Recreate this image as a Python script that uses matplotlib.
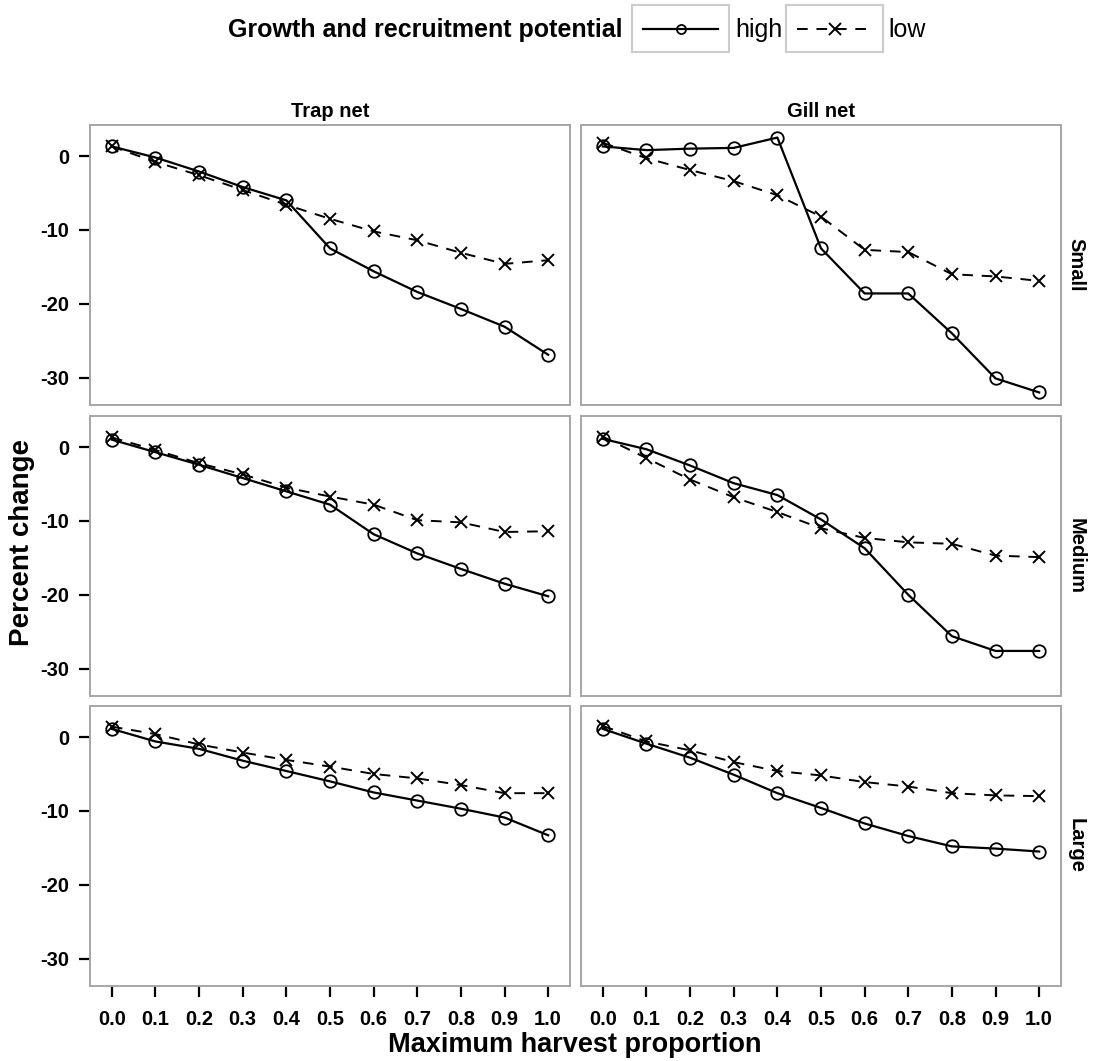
import matplotlib
matplotlib.use("Agg")
import matplotlib.pyplot as plt
from matplotlib.lines import Line2D

plt.rcParams["font.family"] = ["Liberation Sans", "DejaVu Sans"]

# Harvest proportions on the x axis
harvest = [0.0, 0.1, 0.2, 0.3, 0.4, 0.5, 0.6, 0.7, 0.8, 0.9, 1.0]

gears = ["Trap net", "Gill net"]
sizes = ["Small", "Medium", "Large"]
potentials = ["high", "low"]

# Percent change in yield, by size class, gear and growth/recruitment potential
trap_small_high = [1.3, -0.2, -2.1, -4.2, -6.0, -12.5, -15.6, -18.4, -20.7, -23.1, -26.9]
trap_small_low = [1.3, -0.8, -2.6, -4.6, -6.6, -8.5, -10.2, -11.4, -13.1, -14.6, -14.1]
gill_small_high = [1.3, 0.8, 1.0, 1.1, 2.5, -12.5, -18.6, -18.6, -24.0, -30.1, -32.0]
gill_small_low = [1.8, -0.3, -1.9, -3.4, -5.3, -8.2, -12.7, -13.0, -16.0, -16.3, -16.9]

trap_medium_high = [1.0, -0.7, -2.4, -4.2, -6.0, -7.8, -11.8, -14.4, -16.5, -18.5, -20.2]
trap_medium_low = [1.3, -0.4, -2.2, -3.7, -5.5, -6.7, -7.8, -9.9, -10.2, -11.5, -11.4]
gill_medium_high = [1.1, -0.3, -2.5, -4.9, -6.5, -9.8, -13.7, -20.0, -25.6, -27.6, -27.6]
gill_medium_low = [1.4, -1.5, -4.4, -6.8, -8.8, -11.0, -12.3, -12.9, -13.1, -14.7, -14.9]

trap_large_high = [1.1, -0.6, -1.6, -3.2, -4.6, -6.0, -7.5, -8.6, -9.7, -10.9, -13.3]
trap_large_low = [1.4, 0.4, -1.0, -2.1, -3.1, -4.0, -5.0, -5.6, -6.5, -7.6, -7.6]
gill_large_high = [1.1, -0.9, -2.8, -5.1, -7.6, -9.6, -11.7, -13.4, -14.8, -15.1, -15.5]
gill_large_low = [1.5, -0.6, -1.8, -3.4, -4.6, -5.2, -6.1, -6.7, -7.6, -7.9, -8.0]

series = {
    ("Small", "Trap net"): (trap_small_high, trap_small_low),
    ("Small", "Gill net"): (gill_small_high, gill_small_low),
    ("Medium", "Trap net"): (trap_medium_high, trap_medium_low),
    ("Medium", "Gill net"): (gill_medium_high, gill_medium_low),
    ("Large", "Trap net"): (trap_large_high, trap_large_low),
    ("Large", "Gill net"): (gill_large_high, gill_large_low),
}

y_ticks = [-30, -20, -10, 0]
x_ticks = harvest

W, H = 1093, 1061
fig = plt.figure(figsize=(W / 100, H / 100), dpi=100)

FRAME = "#a6a6a6"
styles = {
    "high": dict(color="black", lw=1.6, linestyle="-", marker="o",
                 markersize=9, markerfacecolor="none", markeredgewidth=1.3),
    "low": dict(color="black", lw=1.4, linestyle=(0, (5.5, 4.5)), marker="x",
                markersize=9, markeredgewidth=1.4),
}

col_left = [90, 581]
row_top = [125, 416, 706]
pw, ph = 480, 280

for r, size in enumerate(sizes):
    for c, gear in enumerate(gears):
        x0 = col_left[c] / W
        y0 = 1 - (row_top[r] + ph) / H
        ax = fig.add_axes([x0, y0, pw / W, ph / H])
        hi, lo = series[(size, gear)]
        ax.plot(harvest, lo, **styles["low"])
        ax.plot(harvest, hi, **styles["high"])
        ax.set_xlim(-0.05, 1.05)
        ax.set_ylim(-33.7, 4.2)
        for sp in ax.spines.values():
            sp.set_color(FRAME)
            sp.set_linewidth(1.4)
        ax.tick_params(length=8, width=1.6, color="black",
                       labelsize=14.5, pad=4)
        ax.set_yticks(y_ticks)
        ax.set_xticks(x_ticks)
        if c == 0:
            ax.set_yticklabels([f"{v:d}" for v in y_ticks], fontweight="bold")
            ax.tick_params(axis="y", pad=7)
        else:
            ax.tick_params(axis="y", left=False, labelleft=False)
        if r == 2:
            ax.set_xticklabels([f"{v:.1f}" for v in x_ticks], fontweight="bold")
            ax.tick_params(axis="x", pad=9)
        else:
            ax.tick_params(axis="x", bottom=False, labelbottom=False)
        if r == 0:
            ax.set_title(gear, fontsize=14.5, fontweight="bold", pad=6)
        if c == 1:
            ax.text(1.012, 0.5, size, transform=ax.transAxes, rotation=270,
                    ha="left", va="center", fontsize=14.5, fontweight="bold")

fig.text(22 / W, 1 - 542 / H, "Percent change", rotation=90, ha="center",
         va="center", fontsize=20, fontweight="bold")
fig.text(575 / W, 1 - 1045 / H, "Maximum harvest proportion", ha="center",
         va="center", fontsize=19.5, fontweight="bold")

# Legend: title on the left, each key inside its own grey box
fig.text(622 / W, 1 - 30 / H, "Growth and recruitment potential", ha="right",
         va="center", fontsize=18, fontweight="bold")
key_boxes = [(632, 729, 735), (786, 883, 888)]
for pot, (bx0, bx1, tx) in zip(potentials, key_boxes):
    kax = fig.add_axes([bx0 / W, 1 - 52 / H, (bx1 - bx0) / W, 47 / H])
    kax.set_xlim(0, 1)
    kax.set_ylim(0, 1)
    kax.set_xticks([])
    kax.set_yticks([])
    for sp in kax.spines.values():
        sp.set_color("#cccccc")
        sp.set_linewidth(1.5)
    st = dict(styles[pot])
    st["markersize"] = 6.5 if pot == "high" else 8
    kax.add_line(Line2D([0.11, 0.5, 0.89], [0.5, 0.5, 0.5], markevery=[1], **st))
    fig.text(tx / W, 1 - 30 / H, pot, ha="left", va="center", fontsize=18)

fig.savefig("out.png", dpi=100)
